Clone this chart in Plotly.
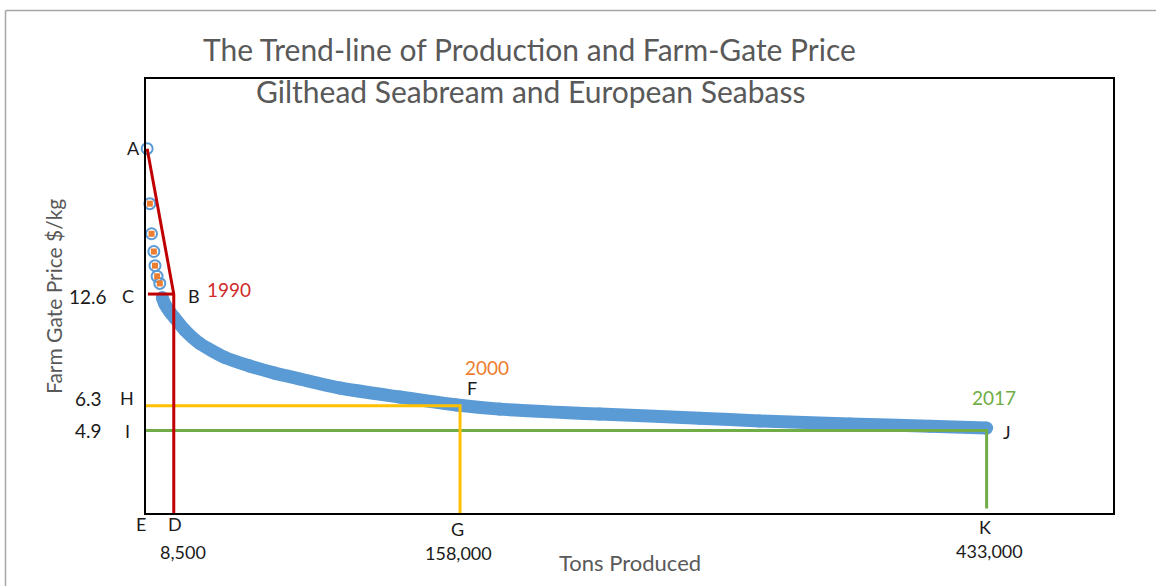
import plotly.graph_objects as go

# ---------------- data ----------------
# early yearly observations (hollow circles with orange squares)
early_tons = [-5400, -4000, -3100, -1900, -1300, -200, 1200]
early_price = [20.8, 17.7, 16.0, 15.0, 14.2, 13.6, 13.2]

# dense trend band
trend_tons = [2500, 3800, 6400, 9000, 14200, 22100, 35100, 48200, 61200, 74300,
              95200, 126500, 156300, 178700, 230900, 283100, 314400, 361400,
              403200, 433000]
trend_price = [12.4, 12.04, 11.6, 11.25, 10.57, 9.81, 9.03, 8.54, 8.14, 7.81,
               7.30, 6.79, 6.34, 6.11, 5.83, 5.60, 5.44, 5.27, 5.15, 5.04]

# guide lines
red_tons = [-5400, 8500, 8500]
red_price = [20.8, 12.6, 0.25]
red_h_tons = [-5000, 8500]
red_h_price = [12.6, 12.6]
yellow_tons = [-6000, 158000, 158000]
yellow_price = [6.3, 6.3, 0.25]
green_tons = [-6000, 433000, 433000]
green_price = [4.9, 4.9, 0.5]

# text labels
price_labels = ["12.6", "6.3", "4.9"]
tons_labels = ["8,500", "158,000", "433,000"]
year_labels = ["1990", "2000", "2017"]
point_letters = ["A", "B", "C", "D", "E", "F", "G", "H", "I", "J", "K"]

# ---------------- figure ----------------
W, H = 1156, 586
L, R, T, B = 146, 43, 79, 73
PW, PH = W - L - R, H - T - B


def px(xp):
    return (xp - L) / PW


def py(yp):
    return (H - B - yp) / PH


BLUE = "#5B9BD5"
ORANGE = "#ED7D31"
RED = "#C00000"
YELLOW = "#FFC000"
GREEN = "#70AD47"
GRAY = "#595959"
FONT = "Lato"

fig = go.Figure()

# trend band (thick line + filled markers)
fig.add_trace(go.Scatter(
    x=trend_tons, y=trend_price, mode="lines+markers",
    line=dict(color=BLUE, width=13, shape="spline", smoothing=0.6),
    marker=dict(color=BLUE, size=13),
    hoverinfo="skip", showlegend=False))

# early observations: hollow blue circles
fig.add_trace(go.Scatter(
    x=early_tons, y=early_price, mode="markers",
    marker=dict(symbol="circle-open", color=BLUE, size=11, line=dict(width=2)),
    hoverinfo="skip", showlegend=False, cliponaxis=False))
# orange squares
fig.add_trace(go.Scatter(
    x=early_tons[1:], y=early_price[1:], mode="markers",
    marker=dict(symbol="square", color=ORANGE, size=6),
    hoverinfo="skip", showlegend=False, cliponaxis=False))

# guide lines
for xs, ys, c in [(green_tons, green_price, GREEN),
                  (yellow_tons, yellow_price, YELLOW),
                  (red_tons, red_price, RED),
                  (red_h_tons, red_h_price, RED)]:
    fig.add_trace(go.Scatter(x=xs, y=ys, mode="lines",
                             line=dict(color=c, width=3),
                             hoverinfo="skip", showlegend=False))

annotations = []


def add_text(text, xp, yp, size=19, color="#1a1a1a", angle=0):
    annotations.append(dict(
        text=text, x=px(xp), y=py(yp), xref="paper", yref="paper",
        xanchor="center", yanchor="middle", showarrow=False, textangle=angle,
        font=dict(family=FONT, size=size, color=color)))


# titles
add_text("The Trend-line of Production and Farm-Gate Price", 529, 49, 30, GRAY)
add_text("Gilthead Seabream and European Seabass", 530, 91, 30, GRAY)
add_text("Farm Gate Price $/kg", 53, 297, 21, GRAY, -90)
add_text("Tons Produced", 630, 562, 22, GRAY)

# price labels
for lab, yp in zip(price_labels, [296, 398, 430]):
    add_text(lab, 88, yp)
# tons labels
for lab, xp, yp in zip(tons_labels, [183, 458, 989], [552, 553, 551]):
    add_text(lab, xp, yp, 18)
# year labels
for lab, xp, yp, c in zip(year_labels, [229, 487, 994], [289, 367, 397],
                          ["#D22B2B", ORANGE, GREEN]):
    add_text(lab, xp, yp, 19, c)
# point letters
letter_pos = {"A": (133, 148), "B": (194, 296), "C": (128, 296), "D": (175, 524),
              "E": (141, 524), "F": (472, 388), "G": (457, 529), "H": (127, 398),
              "I": (127, 431), "J": (1007, 432), "K": (985, 527)}
for lt in point_letters:
    xp, yp = letter_pos[lt]
    add_text(lt, xp, yp, 18)

# outer light border (top and left edges)
shapes = [
    dict(type="line", xref="paper", yref="paper", x0=px(5.5), x1=px(1160),
         y0=py(10.5), y1=py(10.5), line=dict(color="#A6A6A6", width=1.5)),
    dict(type="line", xref="paper", yref="paper", x0=px(5.5), x1=px(5.5),
         y0=py(10.5), y1=py(600), line=dict(color="#A6A6A6", width=1.5)),
]

fig.update_layout(
    width=W, height=H, autosize=False,
    margin=dict(l=L, r=R, t=T, b=B),
    paper_bgcolor="white", plot_bgcolor="white",
    annotations=annotations, shapes=shapes, showlegend=False,
    font=dict(family=FONT),
    xaxis=dict(range=[-6000, 499000], showgrid=False, zeroline=False,
               showticklabels=False, ticks="", showline=True, mirror=True,
               linecolor="black", linewidth=2),
    yaxis=dict(range=[0.25, 24.73], showgrid=False, zeroline=False,
               showticklabels=False, ticks="", showline=True, mirror=True,
               linecolor="black", linewidth=2),
)

fig.write_html("out.html")
